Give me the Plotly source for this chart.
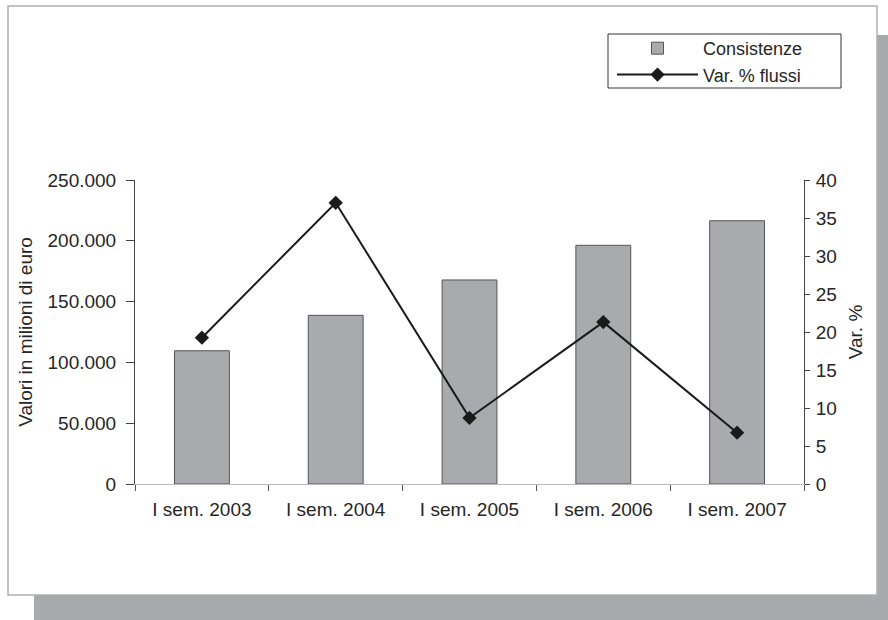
import plotly.graph_objects as go

categories = ["I sem. 2003", "I sem. 2004", "I sem. 2005", "I sem. 2006", "I sem. 2007"]
consistenze = [109600, 138700, 167800, 196300, 216500]
var_flussi = [19.25, 37.0, 8.7, 21.3, 6.75]
left_ticks = [0, 50000, 100000, 150000, 200000, 250000]
right_ticks = [0, 5, 10, 15, 20, 25, 30, 35, 40]

W, H = 888, 620
L, R, T, B = 135, 804, 180, 484


def px(x):
    return (x - L) / (R - L)


def py(y):
    return (B - y) / (B - T)


FAM = "Liberation Sans, Arial, sans-serif"
TXT = "#262626"
font = dict(family=FAM, size=19, color=TXT)

fig = go.Figure()
fig.add_trace(go.Bar(
    x=categories, y=consistenze, name="Consistenze",
    marker=dict(color="#a8aaad", line=dict(color="#555555", width=1)),
    width=0.41, yaxis="y",
))
fig.add_trace(go.Scatter(
    x=categories, y=var_flussi, name="Var. % flussi", mode="lines+markers",
    line=dict(color="#1a1a1a", width=2),
    marker=dict(symbol="diamond", size=11, color="#1a1a1a"),
    yaxis="y2",
))

shapes = [
    # shadow
    dict(type="rect", xref="paper", yref="paper", x0=px(34), x1=px(888), y0=py(35), y1=py(620),
         fillcolor="#a7a9ac", line=dict(width=0), layer="below"),
    # white panel
    dict(type="rect", xref="paper", yref="paper", x0=px(8), x1=px(877), y0=py(6), y1=py(595),
         fillcolor="white", line=dict(width=1.5, color="#b0b0b0"), layer="below"),
    # legend frame
    dict(type="rect", xref="paper", yref="paper", x0=px(608), x1=px(841), y0=py(34), y1=py(88),
         fillcolor="rgba(0,0,0,0)", line=dict(width=1, color="#333333"), layer="above"),
]

fig.update_layout(
    width=W, height=H,
    margin=dict(l=L, r=W - R, t=T, b=H - B, pad=0),
    paper_bgcolor="white", plot_bgcolor="rgba(0,0,0,0)",
    font=font, separators=",.",
    showlegend=True,
    legend=dict(x=px(612), y=py(30), xanchor="left", yanchor="top",
                borderwidth=0, bgcolor="rgba(0,0,0,0)",
                font=dict(size=18, family=FAM, color=TXT),
                itemwidth=81, tracegroupgap=0),
    xaxis=dict(showline=True, linecolor="#bbbbbb", linewidth=1, ticks="outside",
               tickson="boundaries", ticklen=6, tickcolor="#555555", showgrid=False,
               ticklabelstandoff=8),
    yaxis=dict(range=[0, 250000], tickvals=left_ticks, tickformat=",.0f",
               showline=True, linecolor="#444444", linewidth=1, ticks="outside",
               ticklen=8, tickcolor="#444444", showgrid=False, zeroline=False,
               ticklabelstandoff=6,
               title=dict(text="Valori in milioni di euro", standoff=9,
                          font=dict(size=19, family=FAM, color=TXT))),
    yaxis2=dict(range=[0, 40], tickvals=right_ticks, overlaying="y", side="right",
                showline=True, linecolor="#444444", linewidth=1, ticks="outside",
                ticklen=5, tickcolor="#444444", showgrid=False, zeroline=False,
                ticklabelstandoff=2,
                title=dict(text="Var. %", standoff=12,
                           font=dict(size=19, family=FAM, color=TXT))),
    shapes=shapes,
)

fig.write_html("out.html")
